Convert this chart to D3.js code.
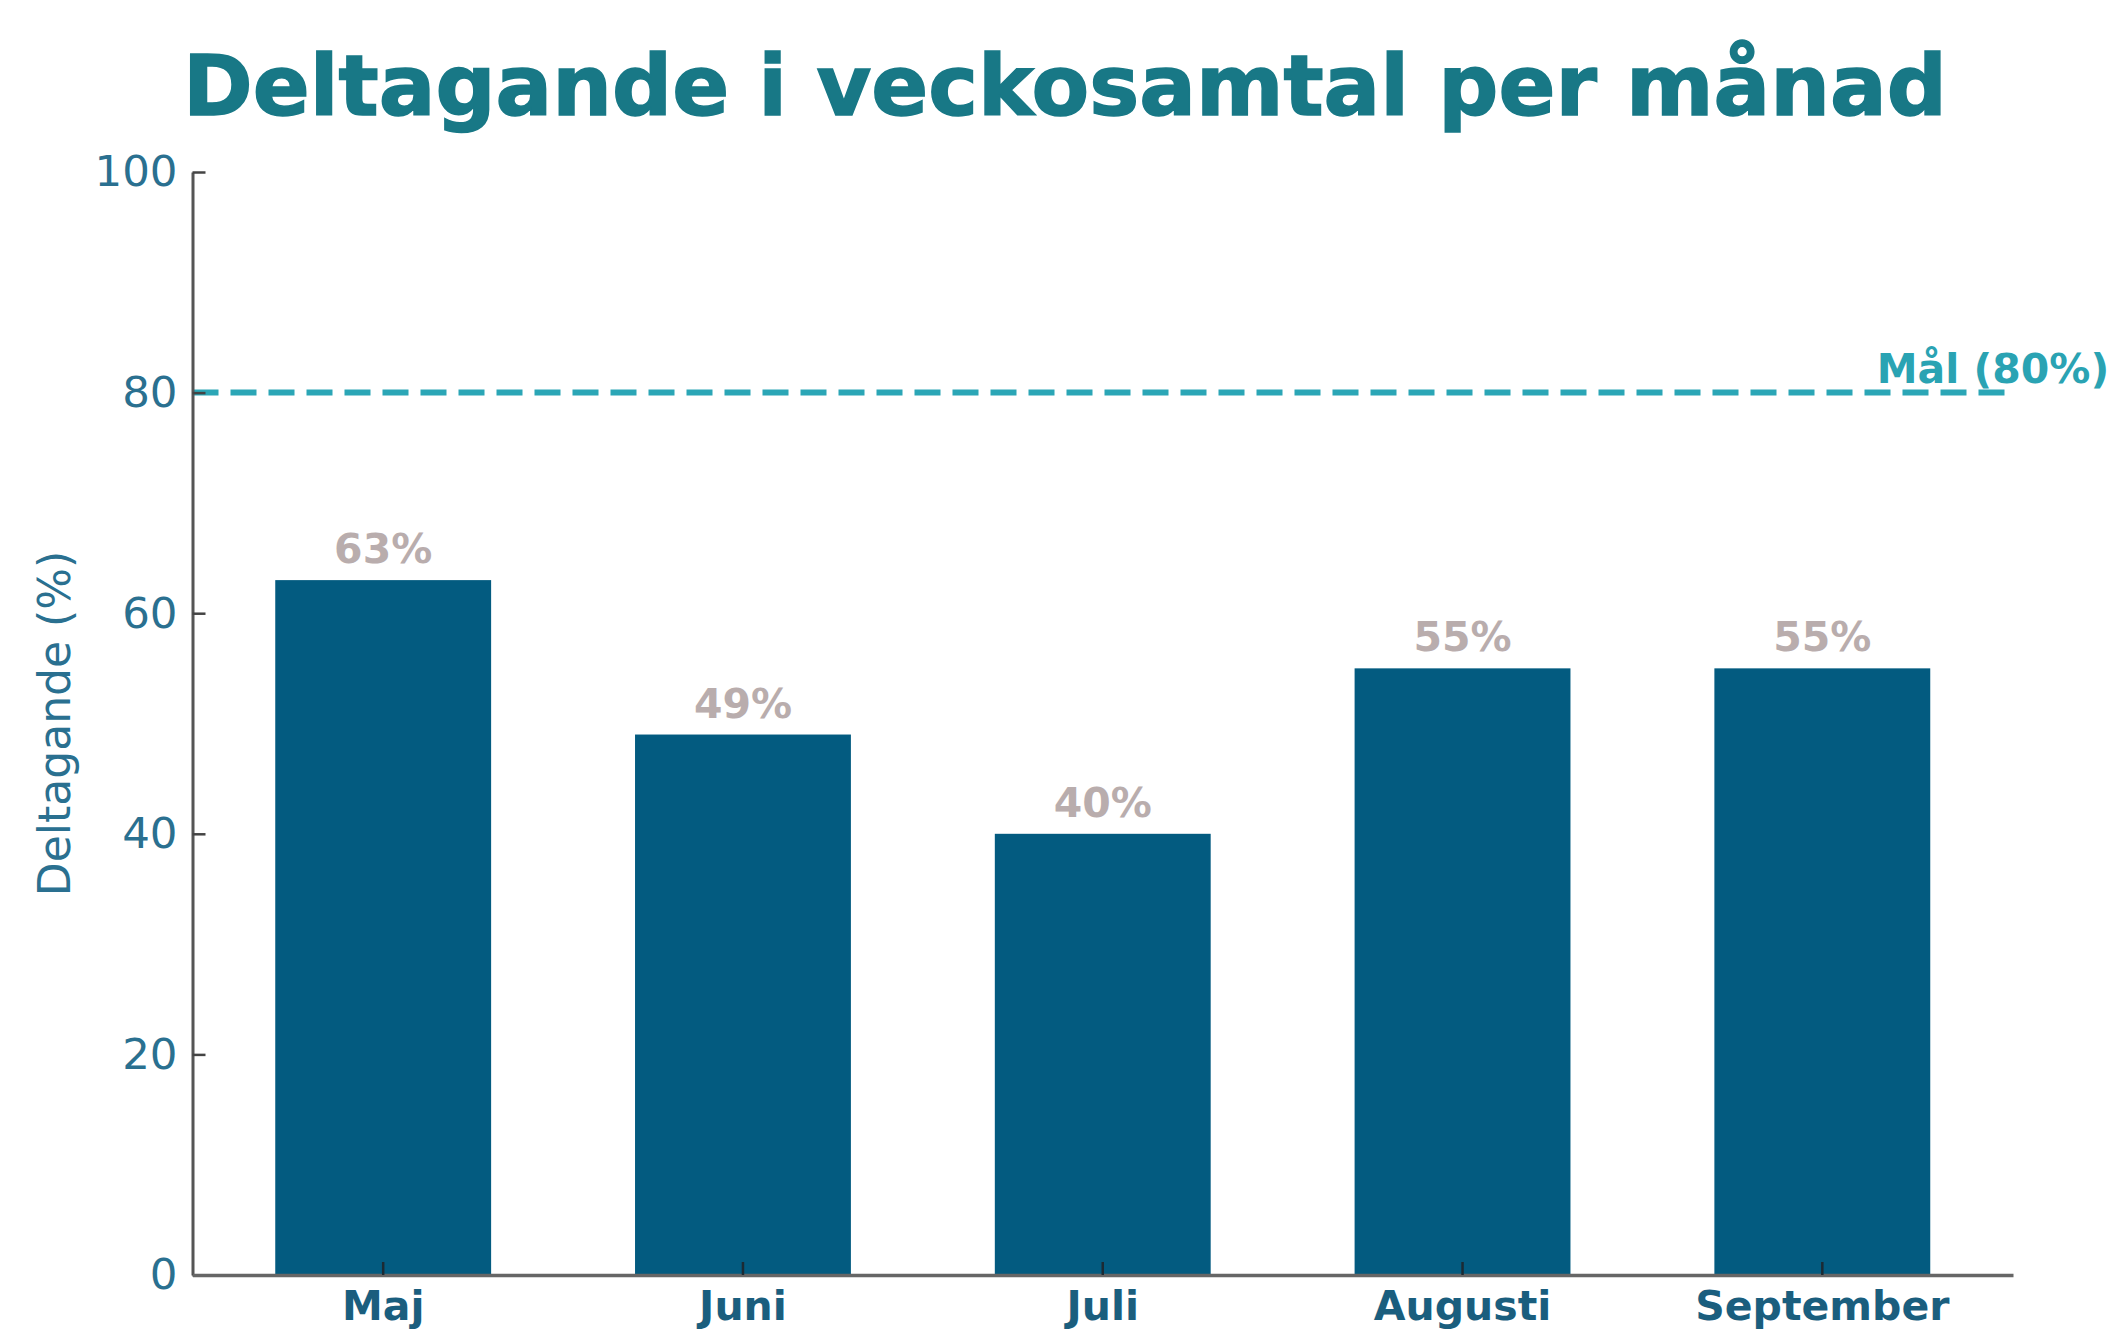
<!DOCTYPE html>
<html>
<head>
<meta charset="utf-8">
<script src="https://cdn.jsdelivr.net/npm/d3@7"></script>
<style>
  body { margin: 0; background: #fff; }
  text { font-family: "DejaVu Sans", sans-serif; }
</style>
</head>
<body>
<div id="chart-area"></div>
<script>
// data
var months = ["Maj", "Juni", "Juli", "Augusti", "September"];
var values = [63, 49, 40, 55, 55];
var yTicks = [0, 20, 40, 60, 80, 100];
var target = 80;
var targetLabel = "Mål (80%)";
var title = "Deltagande i veckosamtal per månad";
var yLabel = "Deltagande (%)";

var width = 2111, height = 1330;
var margin = {left: 192.5, right: 98, top: 172, bottom: 55};

var svg = d3.select("#chart-area").append("svg")
  .attr("width", width)
  .attr("height", height);

var x = d3.scaleBand()
  .domain(months)
  .range([margin.left, width - margin.right])
  .paddingInner(0.4)
  .paddingOuter(0.23);

var y = d3.scaleLinear()
  .domain([0, 100])
  .range([height - margin.bottom, margin.top]);

// bars
svg.selectAll("rect.bar")
  .data(values)
  .enter()
  .append("rect")
  .attr("class", "bar")
  .attr("x", (d, i) => x(months[i]))
  .attr("y", (d) => y(d))
  .attr("width", x.bandwidth())
  .attr("height", (d) => y(0) - y(d))
  .attr("fill", "#035b80");

// value labels
svg.selectAll("text.val")
  .data(values)
  .enter()
  .append("text")
  .attr("class", "val")
  .attr("x", (d, i) => x(months[i]) + x.bandwidth() / 2)
  .attr("y", (d) => y(d) - 17)
  .attr("text-anchor", "middle")
  .attr("font-size", 41)
  .attr("font-weight", "bold")
  .attr("fill", "#b9adad")
  .text((d) => d + "%");

// target line
svg.append("line")
  .attr("x1", margin.left)
  .attr("x2", width - margin.right)
  .attr("y1", y(target))
  .attr("y2", y(target))
  .attr("stroke", "#2ba6b6")
  .attr("stroke-width", 6)
  .attr("stroke-dasharray", "26,12");

svg.append("text")
  .attr("x", width - margin.right - 20)
  .attr("y", y(target) - 10)
  .attr("text-anchor", "middle")
  .attr("font-size", 41)
  .attr("font-weight", "bold")
  .attr("fill", "#2aa3b3")
  .text(targetLabel);

// y axis
var yAxis = svg.append("g")
  .attr("transform", "translate(" + margin.left + ",0)")
  .call(d3.axisLeft(y).tickValues(yTicks).tickSizeInner(-13).tickSizeOuter(0).tickPadding(15));
yAxis.select(".domain").attr("stroke", "#555").attr("stroke-width", 3);
yAxis.selectAll(".tick line").attr("stroke", "#444").attr("stroke-width", 2.5);
yAxis.selectAll(".tick text")
  .attr("font-size", 43.5)
  .attr("fill", "#2a7090")
  .attr("font-family", "DejaVu Sans");

// x axis
var xAxis = svg.append("g")
  .attr("transform", "translate(0," + y(0) + ")")
  .call(d3.axisBottom(x).tickSizeInner(-13).tickSizeOuter(0).tickPadding(16));
xAxis.select(".domain").attr("stroke", "#666").attr("stroke-width", 3.5);
xAxis.selectAll(".tick line").attr("stroke", "#1c2a33").attr("stroke-width", 2.5);
xAxis.selectAll(".tick text")
  .attr("font-size", 41)
  .attr("font-weight", "bold")
  .attr("fill", "#1a5e7e")
  .attr("font-family", "DejaVu Sans");

// y label
svg.append("text")
  .attr("transform", "translate(54," + (margin.top + (height - margin.bottom - margin.top) / 2) + ") rotate(-90)")
  .attr("text-anchor", "middle")
  .attr("dominant-baseline", "central")
  .attr("font-size", 44)
  .attr("fill", "#2a7090")
  .text(yLabel);

// title
svg.append("text")
  .attr("x", 1065)
  .attr("y", 115)
  .attr("text-anchor", "middle")
  .attr("font-size", 84)
  .attr("font-weight", "bold")
  .attr("fill", "#187886")
  .attr("stroke", "#187886")
  .attr("stroke-width", 1.5)
  .text(title);
</script>
</body>
</html>
